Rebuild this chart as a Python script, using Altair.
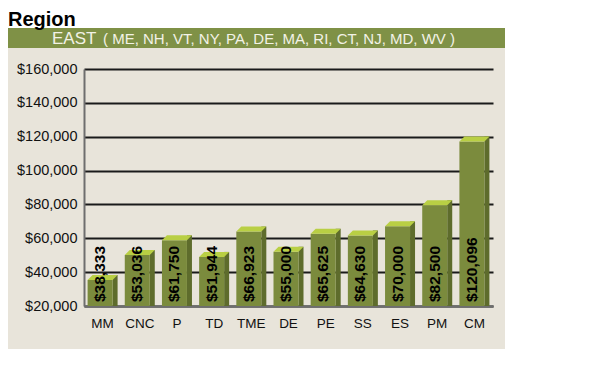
import altair as alt
import pandas as pd

categories = ["MM", "CNC", "P", "TD", "TME", "DE", "PE", "SS", "ES", "PM", "CM"]
salaries = [38333, 53036, 61750, 51944, 66923, 55000, 65625, 64630, 70000, 82500, 120096]
bar_labels = ["$38,333", "$53,036", "$61,750", "$51,944", "$66,923", "$55,000",
              "$65,625", "$64,630", "$70,000", "$82,500", "$120,096"]
y_ticks = [20000, 40000, 60000, 80000, 100000, 120000, 140000, 160000]
title_text = "Region"
banner_main = "EAST"
banner_sub = "( ME, NH, VT, NY, PA, DE, MA, RI, CT, NJ, MD, WV )"

FRONT = "#7b8b3d"
TOP = "#b9cf44"
SIDE = "#5e6c2c"
PANEL = "#e8e4da"
BANNER = "#7f9146"
FONT = "Liberation Sans, Arial, Helvetica, sans-serif"

W, H = 409, 237

df = pd.DataFrame({"cat": categories, "val": salaries, "label": bar_labels,
                   "base": [y_ticks[0]] * len(categories)})
base = alt.Chart(df)

x_axis = alt.Axis(title=None, labelAngle=0, ticks=False, labelPadding=10,
                  labelFont=FONT, labelFontSize=13.5, labelColor="#111",
                  labelOverlap=False,
                  domainColor="#6e6e6e", domainWidth=2.5)
y_axis = alt.Axis(title=None, values=y_ticks, tickCount=len(y_ticks),
                  format="$,d", ticks=False,
                  grid=True, gridColor="#1a1a1a", gridWidth=1.8,
                  domainColor="#6e6e6e", domainWidth=2, labelPadding=7,
                  labelOverlap=False,
                  labelFont=FONT, labelFontSize=14.5, labelColor="#111")
y_scale = alt.Scale(domain=[20000, 160000], nice=False, zero=False)

x_enc = alt.X("cat:N", sort=categories,
              scale=alt.Scale(paddingInner=0, paddingOuter=0), axis=x_axis)
y_enc = alt.Y("val:Q", scale=y_scale, axis=y_axis)
y_base = alt.Y("base:Q", scale=y_scale, axis=y_axis)

side = base.mark_bar(size=5, xOffset=12.5, color=SIDE).encode(
    x=x_enc, y=y_enc, y2="base:Q")
front = base.mark_bar(size=25, xOffset=-2.5, yOffset=5, color=FRONT).encode(
    x=x_enc, y=y_enc, y2="base:Q")
top = base.mark_point(
    shape="M -1 0.3333 L 0.6667 0.3333 L 1 0 L -0.6667 0 Z",
    size=900, filled=True, opacity=1, color=TOP, strokeWidth=0,
).encode(x=x_enc, y=y_enc)
text = base.mark_text(
    angle=270, align="left", baseline="middle", xOffset=-2.5, yOffset=-4,
    font=FONT, fontSize=15.5, fontWeight="bold", color="#000",
).encode(x=x_enc, y=y_base, text="label:N")

one = alt.Data(values=[{"a": title_text, "b": banner_main, "c": banner_sub}])
white_strip = alt.Chart(one).mark_rect(color="white").encode(
    x=alt.value(-76), x2=alt.value(421), y=alt.value(-61), y2=alt.value(-41))
banner = alt.Chart(one).mark_rect(color=BANNER).encode(
    x=alt.value(-76), x2=alt.value(421), y=alt.value(-41), y2=alt.value(-21))
title = alt.Chart(one).mark_text(
    align="left", baseline="alphabetic", font=FONT, fontSize=20,
    fontWeight="bold", color="#000",
).encode(x=alt.value(-76), y=alt.value(-43), text="a:N")
bmain = alt.Chart(one).mark_text(
    align="left", baseline="alphabetic", font=FONT, fontSize=17, color="#f2f2e6",
).encode(x=alt.value(-32), y=alt.value(-25), text="b:N")
bsub = alt.Chart(one).mark_text(
    align="left", baseline="alphabetic", font=FONT, fontSize=15, color="#f2f2e6",
).encode(x=alt.value(19), y=alt.value(-25), text="c:N")

chart = alt.layer(
    side, front, top, text, white_strip, banner, title, bmain, bsub
).properties(
    width=W, height=H, autosize="none",
    padding={"left": 76, "top": 61, "right": 12, "bottom": 43},
    background=PANEL,
).configure_view(stroke=None)

chart.save("out.html", embed_options={"renderer": "svg", "actions": False})
